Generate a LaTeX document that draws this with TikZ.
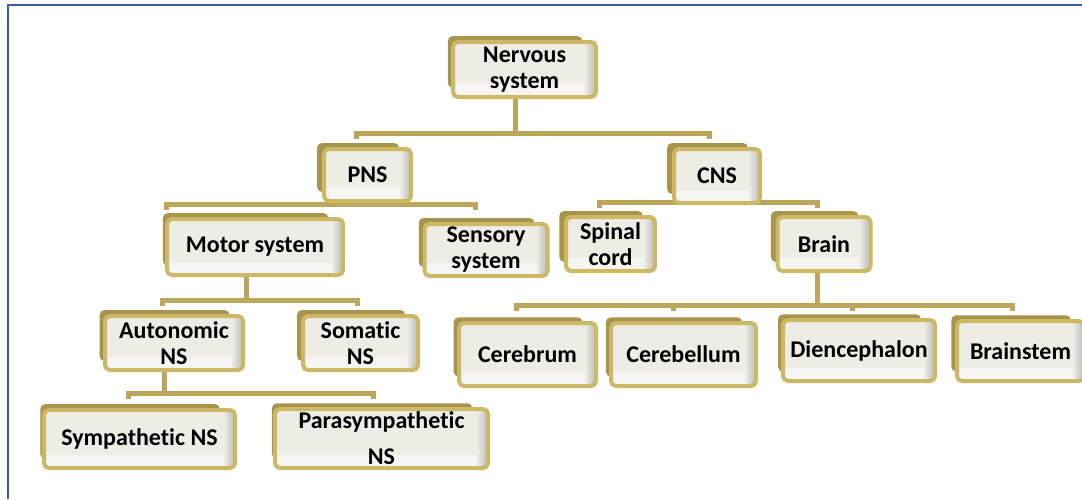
\documentclass[tikz,border=0pt]{standalone}
\usepackage{fontspec}
\setmainfont{Carlito}[Ligatures=NoCommon]
\usetikzlibrary{shadows,backgrounds}

\definecolor{goldline}{HTML}{CDB866}
\definecolor{shadowc}{HTML}{A8944C}
\definecolor{linkc}{HTML}{BCA65C}
\definecolor{facec}{HTML}{EEECE5}
\definecolor{bandc}{HTML}{F5F5F4}
\definecolor{frameblue}{HTML}{3A5BAA}

\tikzset{
  box/.style={draw=goldline, line width=4pt, rounded corners=5pt, fill=facec,
    align=center, inner sep=0pt, text=black,
    font=\bfseries\fontsize{24}{26}\selectfont,
    general shadow={fill=shadowc, shadow xshift=-10pt, shadow yshift=8pt, shadow scale=0.94},
    path picture={
      \fill[bandc] (path picture bounding box.south west) rectangle ([yshift=13pt]path picture bounding box.south east);
      \shade[left color=facec, right color=gray!55] ([xshift=-11pt]path picture bounding box.north east) rectangle (path picture bounding box.south east);
    }},
  link/.style={draw=linkc, line width=5pt}
}

\begin{document}
\begin{tikzpicture}[x=1pt, y=-1pt]

\useasboundingbox (0,0) rectangle (1082,499);

% Frame
\draw[frameblue, line width=2.5pt] (8,499) -- (8,5) -- (1082,5);

% Level 0
\node[box, minimum width=143pt, minimum height=55pt] (nerv) at (524.5,69.5) {Nervous\\system};

% Level 1
\node[box, minimum width=87pt, minimum height=52pt] (pns) at (367.5,175) {PNS};
\node[box, minimum width=86pt, minimum height=54pt] (cns) at (717,176) {CNS};

% Level 2
\node[box, minimum width=176pt, minimum height=56pt] (motor) at (255,247) {Motor system};
\node[box, minimum width=123pt, minimum height=52pt] (sens) at (486,250) {Sensory\\system};
\node[box, minimum width=89pt, minimum height=54pt] (spinal) at (610.5,244) {Spinal\\cord};
\node[box, minimum width=93pt, minimum height=54pt] (brain) at (824,244) {Brain};

% Level 3
\node[box, minimum width=138pt, minimum height=54pt] (auto) at (174,343) {Autonomic\\NS};
\node[box, minimum width=115pt, minimum height=54pt] (soma) at (360.5,343) {Somatic\\NS};
\node[box, minimum width=137pt, minimum height=63pt] (cbrum) at (527.5,354.5) {Cerebrum};
\node[box, minimum width=145pt, minimum height=63pt] (cbell) at (683.5,354.5) {Cerebellum};
\node[box, minimum width=152pt, minimum height=61pt] (dien) at (859,350.5) {Diencephalon};
\node[box, minimum width=127pt, minimum height=60pt] (bstem) at (1020.5,351) {Brainstem};

% Level 4
\node[box, minimum width=191pt, minimum height=58pt] (symp) at (139.5,439) {Sympathetic NS};
\node[box, minimum width=213pt, minimum height=59pt,
  font=\bfseries\fontsize{24}{36}\selectfont] (para) at (381.5,438.5) {Parasympathetic\\NS};

% Connectors
\begin{scope}[on background layer]
  \coordinate (nervbar) at (515,133);
  \coordinate (pnsend) at (356,139);
  \coordinate (cnsend) at (709,139);
  \draw[link] (nerv.south -| nervbar) -- (nervbar);
  \draw[link] (pnsend) |- (nervbar) -| (cnsend);

  \coordinate (pnsbar) at (358,204);
  \coordinate (motorend) at (166,210);
  \coordinate (sensend) at (475,210);
  \draw[link] (pns.south -| pnsbar) -- (pnsbar);
  \draw[link] (motorend) |- (pnsbar) -| (sensend);

  \coordinate (cnsbar) at (708,202);
  \coordinate (spinalend) at (599,208);
  \coordinate (brainend) at (817,208);
  \draw[link] (cns.south -| cnsbar) -- (cnsbar);
  \draw[link] (spinalend) |- (cnsbar) -| (brainend);

  \coordinate (motorbar) at (246,300);
  \coordinate (autoend) at (162,306);
  \coordinate (somaend) at (357,306);
  \draw[link] (motor.south -| motorbar) -- (motorbar);
  \draw[link] (autoend) |- (motorbar) -| (somaend);

  \coordinate (autobar) at (164,393);
  \coordinate (sympend) at (128,399);
  \coordinate (paraend) at (373,399);
  \draw[link] (auto.south -| autobar) -- (autobar);
  \draw[link] (sympend) |- (autobar) -| (paraend);

  \coordinate (brainbar) at (817,305);
  \coordinate (cbrumend) at (516,311);
  \coordinate (cbellend) at (673,311);
  \coordinate (dienend) at (852,311);
  \coordinate (bstemend) at (1012,311);
  \draw[link] (brain.south -| brainbar) -- (brainbar);
  \draw[link] (cbrumend) |- (brainbar) -| (bstemend);
  \draw[link] (cbellend) -- (cbellend |- brainbar);
  \draw[link] (dienend) -- (dienend |- brainbar);
\end{scope}

\end{tikzpicture}
\end{document}
